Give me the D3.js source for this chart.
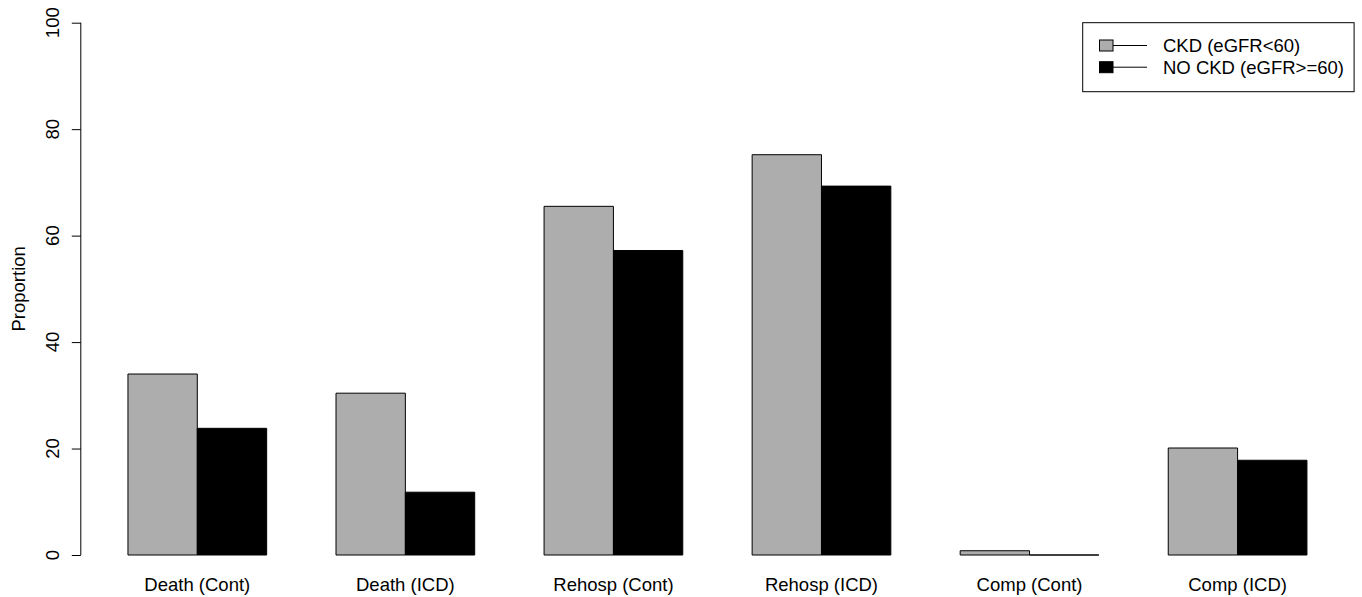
<!DOCTYPE html>
<html>
<head>
<meta charset="utf-8">
<script src="https://cdn.jsdelivr.net/npm/d3@7"></script>
<style>
  html, body { margin: 0; padding: 0; background: #fff; }
  svg { display: block; font-family: "Liberation Sans", Arial, Helvetica, sans-serif; }
</style>
</head>
<body>
<svg id="chart" width="1362" height="597"></svg>
<script>
const categories = ["Death (Cont)", "Death (ICD)", "Rehosp (Cont)", "Rehosp (ICD)", "Comp (Cont)", "Comp (ICD)"];
const seriesNames = ["CKD (eGFR<60)", "NO CKD (eGFR>=60)"];
const ckdValues = [34.0, 30.4, 65.5, 75.2, 0.8, 20.1];
const noCkdValues = [23.8, 11.8, 57.2, 69.3, 0.0, 17.8];
const yTicks = [0, 20, 40, 60, 80, 100];
const colors = ["#adadad", "#000000"];

const svg = d3.select("#chart");

// R barplot style: bar units, each group = 2 bars + 1 space
const x = d3.scaleLinear().domain([0.32, 18.68]).range([80.8, 1354.1]);
const y = d3.scaleLinear().domain([-4, 104]).range([576.3, 1.4]);

const series = [ckdValues, noCkdValues];
const bars = [];
categories.forEach((c, i) => {
  series.forEach((vals, s) => {
    const left = 1 + 3 * i + s;
    bars.push({ left, right: left + 1, v: vals[i], s });
  });
});

// Bars drawn as closed paths so zero-height bars still show their outline
svg.append("g").selectAll("path").data(bars).join("path")
  .attr("d", d => {
    const x0 = x(d.left), x1 = x(d.right), y0 = y(0), y1 = y(d.v);
    return `M${x0},${y0}H${x1}V${y1}H${x0}Z`;
  })
  .attr("fill", d => colors[d.s])
  .attr("stroke", "#000")
  .attr("stroke-width", 1);

// Category labels
svg.append("g").selectAll("text").data(categories).join("text")
  .attr("x", (d, i) => x(2 + 3 * i))
  .attr("y", 591)
  .attr("text-anchor", "middle")
  .attr("font-size", 18.5)
  .attr("fill", "#000")
  .text(d => d);

// Y axis
const axisG = svg.append("g").attr("transform", `translate(${x(0.32)},0)`);
axisG.call(d3.axisLeft(y).tickValues(yTicks).tickSize(9).tickFormat(""));
axisG.select(".domain").attr("d", `M-0,${y(0)}V${y(100)}`).attr("stroke", "#000");
axisG.selectAll(".tick line").attr("stroke", "#000");

// Rotated tick labels
svg.append("g").selectAll("text").data(yTicks).join("text")
  .attr("transform", d => `translate(58.5,${y(d)}) rotate(-90)`)
  .attr("text-anchor", "middle")
  .attr("font-size", 18.5)
  .attr("fill", "#000")
  .text(d => d);

// Y title
svg.append("text")
  .attr("transform", `translate(25,${y(50)}) rotate(-90)`)
  .attr("text-anchor", "middle")
  .attr("font-size", 18.5)
  .attr("fill", "#000")
  .text("Proportion");

// Legend
const lg = svg.append("g");
lg.append("rect")
  .attr("x", 1082.7).attr("y", y(100))
  .attr("width", x(18.68) - 1082.7).attr("height", 69)
  .attr("fill", "#fff").attr("stroke", "#000").attr("stroke-width", 1);
seriesNames.forEach((name, i) => {
  const cy = 45.5 + i * 21.7;
  lg.append("line")
    .attr("x1", 1112.7).attr("x2", 1147).attr("y1", cy).attr("y2", cy)
    .attr("stroke", "#000").attr("stroke-width", 1);
  lg.append("rect")
    .attr("x", 1099.5).attr("y", cy - 5.5).attr("width", 13.5).attr("height", 11)
    .attr("fill", colors[i]).attr("stroke", "#000").attr("stroke-width", 1);
  lg.append("text")
    .attr("x", 1163).attr("y", cy + 6.5)
    .attr("font-size", 18.5).attr("fill", "#000")
    .text(name);
});
</script>
</body>
</html>
